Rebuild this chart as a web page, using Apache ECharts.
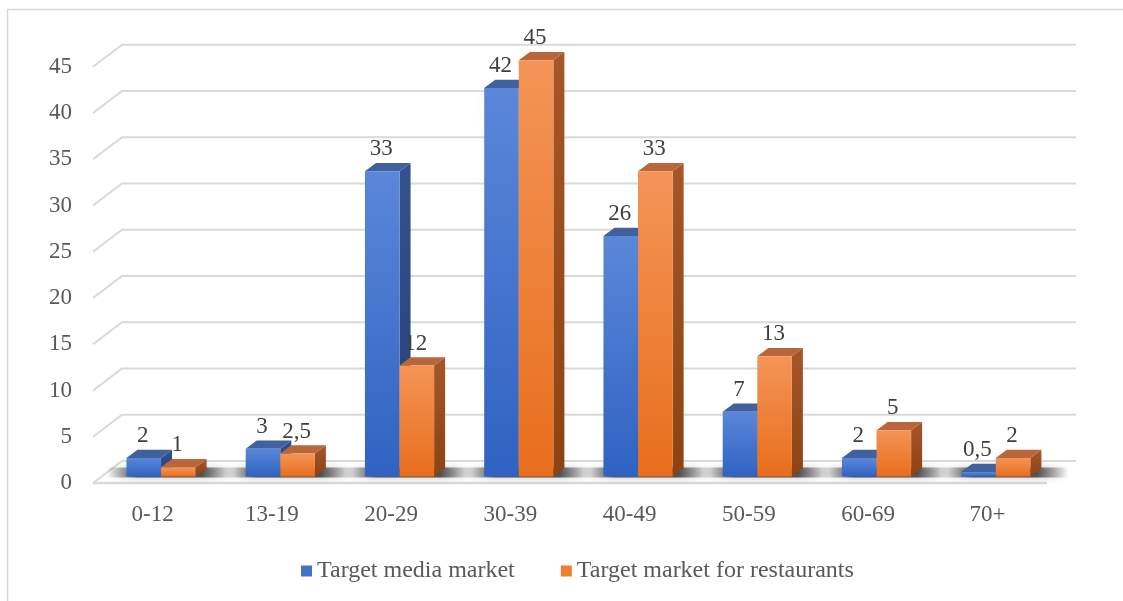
<!DOCTYPE html>
<html>
<head>
<meta charset="utf-8">
<script src="https://cdn.jsdelivr.net/npm/echarts@6/dist/echarts.min.js"></script>
<style>
html,body{margin:0;padding:0;background:#fff;}
#chart{width:1123px;height:601px;}
</style>
</head>
<body>
<div id="chart"></div>
<script>
// data
var categories = ['0-12', '13-19', '20-29', '30-39', '40-49', '50-59', '60-69', '70+'];
var mediaMarket = [2, 3, 33, 42, 26, 7, 2, 0.5];
var restaurantMarket = [1, 2.5, 12, 45, 33, 13, 5, 2];
var yTicks = [0, 5, 10, 15, 20, 25, 30, 35, 40, 45];

// 3d look: depth vector of the floor, bars sit between T_FRONT and T_FRONT+T_DEPTH
var DX = 29, DY = -22;
var T_FRONT = 0.29, T_DEPTH = 0.38;
var BAR_RATIO = 0.29;
var FONT = '"Liberation Serif", "Times New Roman", serif';

var chart = echarts.init(document.getElementById('chart'));

function fmt(v) {
  return String(v).replace('.', ',');
}

// back wall + floor
function renderWall(params, api) {
  var cs = params.coordSys;
  var v = api.value(1);
  var y = api.coord([0, v])[1];
  var x0 = cs.x, x1 = cs.x + cs.width;
  var children = [{
    type: 'polyline',
    shape: {points: [[x0, y], [x0 + DX, y + DY], [x1 + DX, y + DY]]},
    style: {stroke: '#d9d9d9', lineWidth: 2, fill: null}
  }];
  if (v === 0) {
    children.push({
      type: 'line',
      shape: {x1: x0, y1: y, x2: x1, y2: y},
      style: {stroke: '#d9d9d9', lineWidth: 2.5}
    });
  }
  return {type: 'group', children: children};
}

// soft shadow on the floor under each pair of bars
function renderShadow(params, api) {
  var i = api.value(0);
  var base = api.coord([i, 0]);
  var bw = api.size([1, 0])[0] * BAR_RATIO;
  var xc = base[0] + DX * T_FRONT;
  var yb = base[1] + DY * T_FRONT;
  return {
    type: 'rect',
    shape: {x: xc - bw - 20, y: yb - 9, width: 2 * bw + 20 + 38, height: 10},
    style: {
      fill: new echarts.graphic.LinearGradient(0, 0, 1, 0, [
        {offset: 0, color: 'rgba(0,0,0,0)'},
        {offset: 0.25, color: 'rgba(0,0,0,0.6)'},
        {offset: 0.75, color: 'rgba(0,0,0,0.6)'},
        {offset: 1, color: 'rgba(0,0,0,0)'}
      ]),
      shadowBlur: 7,
      shadowColor: 'rgba(0,0,0,0.45)'
    }
  };
}

function makeBar(side, c) {
  return function (params, api) {
    var i = api.value(0), v = api.value(1);
    var base = api.coord([i, 0]);
    var top = api.coord([i, v]);
    var bw = api.size([1, 0])[0] * BAR_RATIO;
    var xc = base[0] + DX * T_FRONT;
    var yb = base[1] + DY * T_FRONT;
    var yt = top[1] + DY * T_FRONT;
    var xl = side < 0 ? xc - bw : xc;
    var xr = xl + bw;
    var dx = DX * T_DEPTH, dy = DY * T_DEPTH;
    return {
      type: 'group',
      children: [
        {
          type: 'polygon',
          shape: {points: [[xr, yt], [xr + dx, yt + dy], [xr + dx, yb + dy], [xr, yb]]},
          style: {fill: new echarts.graphic.LinearGradient(0, 0, 0, 1, [
            {offset: 0, color: c.side0}, {offset: 1, color: c.side1}])}
        },
        {
          type: 'polygon',
          shape: {points: [[xl, yt], [xr, yt], [xr + dx, yt + dy], [xl + dx, yt + dy]]},
          style: {fill: c.top}
        },
        {
          type: 'rect',
          shape: {x: xl, y: yt, width: bw, height: yb - yt},
          style: {fill: new echarts.graphic.LinearGradient(0, 0, 0, 1, [
            {offset: 0, color: c.front0}, {offset: 1, color: c.front1}])}
        },
        {
          type: 'text',
          style: {
            text: fmt(v), x: (xl + xr) / 2 - 1, y: yt - 22,
            align: 'center', verticalAlign: 'middle',
            fontSize: 23, fontFamily: FONT, fill: '#404040'
          }
        }
      ]
    };
  };
}

var blue = {front0: '#5a87d8', front1: '#2f62c2', top: '#41609f', side0: '#34528f', side1: '#263f73'};
var orange = {front0: '#f49457', front1: '#e86e1c', top: '#b9663b', side0: '#a65629', side1: '#8c4314'};

var option = {
  animation: false,
  grid: {left: 93, right: 76, top: 66.75, bottom: 118},
  graphic: [{
    type: 'rect', silent: true,
    shape: {x: 7.5, y: 9.5, width: 1300, height: 800},
    style: {fill: null, stroke: '#d9d9d9', lineWidth: 1.5}
  }],
  legend: {
    left: 296, top: 554,
    itemWidth: 11, itemHeight: 11, itemGap: 46,
    icon: 'rect',
    textStyle: {fontSize: 24, fontFamily: FONT, color: '#595959'},
    data: ['Target media market', 'Target market for restaurants']
  },
  xAxis: {
    type: 'category',
    data: categories,
    axisLine: {show: false},
    axisTick: {show: false},
    axisLabel: {margin: 20, fontSize: 23, fontFamily: FONT, color: '#595959'}
  },
  yAxis: {
    type: 'value',
    min: 0, max: 45, interval: 5,
    axisLine: {show: false},
    axisTick: {show: false},
    splitLine: {show: false},
    axisLabel: {margin: 21, fontSize: 23, fontFamily: FONT, color: '#595959'}
  },
  series: [
    {
      type: 'custom', name: 'wall', silent: true, z: 1,
      renderItem: renderWall,
      data: yTicks.map(function (v) { return [0, v]; })
    },
    {
      type: 'custom', name: 'shadow', silent: true, z: 2,
      renderItem: renderShadow,
      data: categories.map(function (c, i) { return [i, 0]; })
    },
    {
      type: 'custom', name: 'Target media market', z: 3,
      itemStyle: {color: '#4472c4'},
      renderItem: makeBar(-1, blue),
      data: mediaMarket.map(function (v, i) { return [i, v]; })
    },
    {
      type: 'custom', name: 'Target market for restaurants', z: 4,
      itemStyle: {color: '#ed7d31'},
      renderItem: makeBar(1, orange),
      data: restaurantMarket.map(function (v, i) { return [i, v]; })
    }
  ]
};

chart.setOption(option);
window.addEventListener('resize', function () { chart.resize(); });
</script>
</body>
</html>
